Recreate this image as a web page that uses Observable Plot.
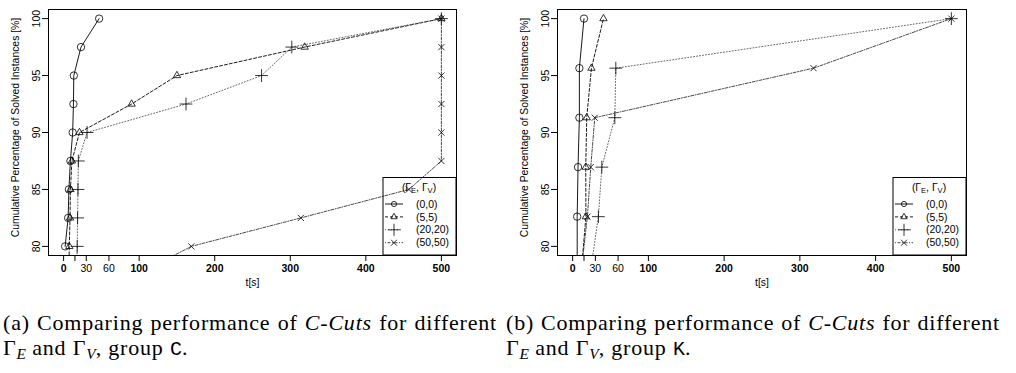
<!DOCTYPE html>
<html><head><meta charset="utf-8">
<script src="https://cdn.jsdelivr.net/npm/d3@7"></script>
<script src="https://cdn.jsdelivr.net/npm/@observablehq/plot@0.6"></script>
<style>
body{margin:0;background:#fff;width:1016px;height:373px;overflow:hidden;position:relative;}
#a,#b{position:absolute;top:0;}
#a{left:0}#b{left:508px}
.cap{position:absolute;font-family:"Liberation Serif","Times New Roman",serif;font-size:22px;line-height:25px;color:#000;letter-spacing:0.8px;}
.l1{text-align:justify;text-align-last:justify;white-space:nowrap;}
.cap sub{font-size:70%;line-height:0;vertical-align:-0.28em;letter-spacing:0;}
.cap tt{font-family:"Liberation Mono","DejaVu Sans Mono",monospace;font-size:20px;letter-spacing:0;}
</style></head><body>
<div id="a"></div><div id="b"></div>
<div class="cap" style="left:3px;top:310px;width:494px">
  <div class="l1">(a) Comparing performance of <i>C-Cuts</i> for different</div>
  <div>Γ<sub><i>E</i></sub> and Γ<sub><i>V</i></sub>, group <tt>C</tt>.</div>
</div>
<div class="cap" style="left:506px;top:310px;width:494px">
  <div class="l1">(b) Comparing performance of <i>C-Cuts</i> for different</div>
  <div>Γ<sub><i>E</i></sub> and Γ<sub><i>V</i></sub>, group <tt>K</tt>.</div>
</div>
<script>
// ---- data (group C, 40 instances) ----
const pctC = [77.5, 80, 82.5, 85, 87.5, 90, 92.5, 95, 97.5, 100];
const tC_00   = [null, 2, 6, 7, 9, 12, 13, 13.5, 23, 47];
const tC_55   = [7, 7.5, 8.5, 9, 11, 21, 90, 150, 319, 500];
const tC_2020 = [17, 18, 18.5, 19, 19.5, 31, 162, 262, 302, 500];
const tC_5050 = [97, 169, 314, 457, 500, 500, 500, 500, 500, 500];
// ---- data (group K, 23 instances) ----
const pctK = [78.26, 82.61, 86.96, 91.30, 95.65, 100];
const tK_00   = [6, 6, 7.1, 8.9, 8.9, 15];
const tK_55   = [12, 17.5, 17.3, 18.6, 24.8, 40.7];
const tK_2020 = [24.5, 34, 38.5, 55.7, 57, 500];
const tK_5050 = [12, 19.5, 23.9, 29.2, 318, 500];
const seriesNames = ["(0,0)", "(5,5)", "(20,20)", "(50,50)"];
const xTicksMajor = [0, 100, 200, 300, 400, 500];
const xTicksMinor = [15, 30, 60];
const xMinorLabels = ["", "30", "60"];
const yTicks = [80, 85, 90, 95, 100];
const xLabel = "t[s]";
const yLabel = "Cumulative Percentage of Solved Instances [%]";

const styles = [
  {symbol: "circle", r: 3.7, dash: null, stroke: "#000", lr: 2.6},
  {symbol: "triangle2", r: 3.5, dash: "3,2", stroke: "#000", lr: 3},
  {symbol: "plus", r: 4.2, dash: "1,2", stroke: "#555", lr: 4},
  {symbol: "times", r: 2.9, dash: "1,1.5,3,1.5", stroke: "#333", lr: 2.8}
];
const d3sym = {circle: d3.symbolCircle, triangle2: d3.symbolTriangle2, plus: d3.symbolPlus, times: d3.symbolTimes};
const FONT = "'Liberation Sans', Arial, Helvetica, sans-serif";

function chart(pct, tArrays, marginLeft, marginRight) {
  const marks = [];
  tArrays.forEach((t, i) => {
    const st = styles[i];
    const data = pct.map((p, j) => ({t: t[j], p})).filter(d => d.t != null);
    marks.push(Plot.line(data, {x: "t", y: "p", stroke: st.stroke, strokeWidth: 0.9,
      strokeDasharray: st.dash, clip: true}));
    marks.push(Plot.dot(data, {x: "t", y: "p", symbol: st.symbol, r: st.r, stroke: "#000",
      fill: "none", strokeWidth: 0.8, clip: true}));
  });
  marks.push(Plot.frame({stroke: "#000", strokeWidth: 1}));
  marks.push(Plot.axisX({ticks: xTicksMajor, tickSize: 6, tickPadding: 3, fontWeight: "bold", label: null, fontSize: 10.5}));
  marks.push(Plot.axisX({ticks: xTicksMinor, tickSize: 6, tickPadding: 3, label: null, fontSize: 10.5,
    tickFormat: d => xMinorLabels[xTicksMinor.indexOf(d)]}));
  marks.push(Plot.axisY({ticks: yTicks, tickSize: 6, tickRotate: -90, label: null, fontSize: 10.5}));
  marks.push(Plot.text([xLabel], {text: d => d, frameAnchor: "bottom", dy: 30, fontSize: 10.4}));
  marks.push(Plot.text([yLabel], {text: d => d, frameAnchor: "left", textAnchor: "middle", rotate: -90,
    dx: -33, dy: -5, fontSize: 10.4}));
  const svg = Plot.plot({
    width: 508, height: 295,
    marginLeft, marginRight, marginTop: 9, marginBottom: 40,
    x: {domain: [-20, 520]},
    y: {domain: [79.2, 100.8]},
    style: {background: "transparent", color: "#000", fontFamily: FONT, fontSize: "10.5px"},
    marks
  });
  addLegend(svg, 508 - marginRight, 295 - 40);
  return svg;
}

function addLegend(svg, right, bottom) {
  const w = 73, top = 177.5, bx = right - w;
  const g = d3.select(svg).append("g").attr("font-family", FONT).attr("font-size", 10.4)
    .attr("fill", "#000").attr("text-anchor", "start");
  g.append("rect").attr("x", bx).attr("y", top).attr("width", w).attr("height", bottom - top)
    .attr("fill", "none").attr("stroke", "#000").attr("stroke-width", 1);
  const title = g.append("text").attr("x", bx + 36).attr("y", 190.5).attr("text-anchor", "middle");
  title.append("tspan").text("(Γ");
  title.append("tspan").attr("dy", 2.5).attr("font-size", 7.5).text("E");
  title.append("tspan").attr("dy", -2.5).text(", Γ");
  title.append("tspan").attr("dy", 2.5).attr("font-size", 7.5).text("V");
  title.append("tspan").attr("dy", -2.5).text(")");
  seriesNames.forEach((name, i) => {
    const st = styles[i];
    const y = 204 + i * 12.9;
    g.append("line").attr("x1", bx + 2).attr("x2", bx + 20).attr("y1", y).attr("y2", y)
      .attr("stroke", st.stroke).attr("stroke-width", 0.9).attr("stroke-dasharray", st.dash);
    g.append("path").attr("transform", `translate(${bx + 11},${y})`)
      .attr("d", d3.symbol(d3sym[st.symbol], st.lr * st.lr * Math.PI)())
      .attr("fill", "none").attr("stroke", "#000").attr("stroke-width", 0.8);
    g.append("text").attr("x", bx + 33).attr("y", y).attr("dy", "0.35em").text(name);
  });
}

document.getElementById("a").appendChild(chart(pctC, [tC_00, tC_55, tC_2020, tC_5050], 48, 52));
document.getElementById("b").appendChild(chart(pctK, [tK_00, tK_55, tK_2020, tK_5050], 49, 50));
</script>
</body></html>
